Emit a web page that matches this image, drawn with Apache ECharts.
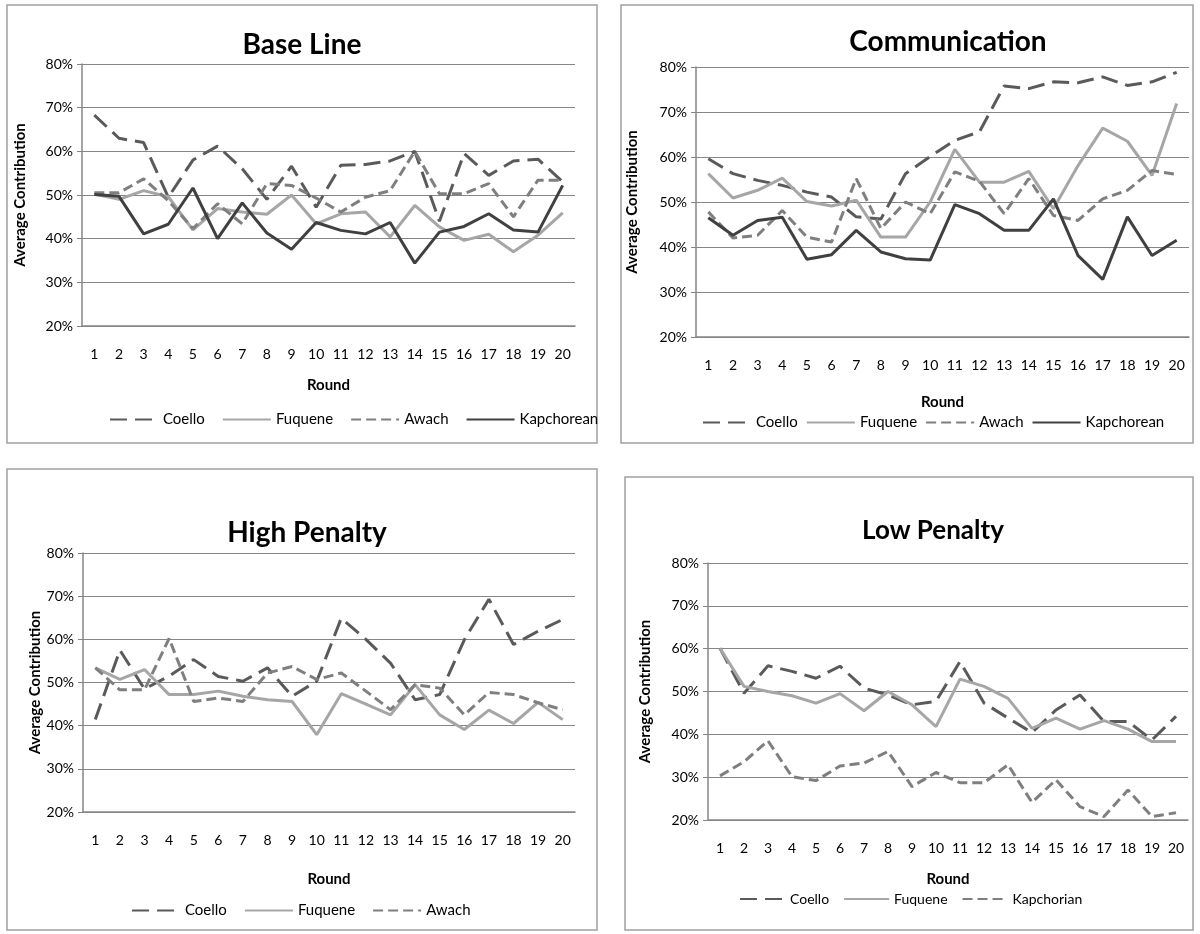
<!DOCTYPE html>
<html>
<head>
<meta charset="utf-8">
<script src="https://cdn.jsdelivr.net/npm/echarts@6/dist/echarts.min.js"></script>
<style>
  html, body { margin: 0; padding: 0; background: #fff; }
  #chart { width: 1200px; height: 934px; }
</style>
</head>
<body>
<div id="chart"></div>
<script>
// Rounds of the public goods game
const rounds = ['1','2','3','4','5','6','7','8','9','10','11','12','13','14','15','16','17','18','19','20'];
const yTicks = [20, 30, 40, 50, 60, 70, 80];

// Base Line treatment (average contribution, %)
const baseCoello     = [68.3, 63.0, 62.0, 49.5, 58.0, 61.2, 56.0, 49.0, 56.6, 47.2, 56.8, 57.0, 57.8, 60.0, 44.0, 59.5, 54.5, 57.8, 58.2, 53.0];
const baseFuquene    = [50.2, 49.0, 51.0, 49.6, 42.0, 46.9, 46.1, 45.6, 50.0, 43.4, 45.7, 46.1, 40.4, 47.6, 42.7, 39.6, 41.0, 37.0, 40.8, 45.9];
const baseAwach      = [50.5, 50.5, 53.7, 48.7, 42.3, 48.0, 43.4, 52.6, 52.2, 49.3, 46.1, 49.5, 51.0, 60.0, 50.3, 50.3, 52.6, 45.0, 53.4, 53.4];
const baseKapchorean = [50.1, 49.7, 41.1, 43.3, 51.6, 40.0, 48.2, 41.3, 37.6, 43.7, 41.9, 41.1, 43.7, 34.4, 41.5, 42.8, 45.7, 42.0, 41.5, 52.2];

// Communication treatment
const commCoello     = [59.6, 56.3, 54.8, 53.7, 52.2, 51.1, 46.7, 46.2, 56.3, 60.1, 63.7, 65.6, 75.8, 75.2, 76.7, 76.5, 77.8, 75.9, 76.7, 78.8];
const commFuquene    = [56.3, 50.9, 52.6, 55.3, 50.1, 49.1, 50.4, 42.2, 42.2, 50.0, 61.7, 54.4, 54.4, 56.8, 48.5, 58.1, 66.4, 63.5, 55.9, 71.9];
const commAwach      = [47.8, 42.0, 42.6, 48.1, 42.2, 41.1, 55.2, 44.1, 50.0, 47.4, 56.7, 54.6, 47.4, 55.2, 47.0, 45.9, 50.7, 52.6, 57.0, 56.1];
const commKapchorean = [46.5, 42.6, 45.9, 46.6, 37.3, 38.3, 43.7, 38.9, 37.4, 37.1, 49.4, 47.4, 43.7, 43.7, 50.7, 38.1, 32.8, 46.7, 38.1, 41.5];

// High Penalty treatment
const highCoello     = [41.4, 57.5, 48.5, 51.5, 55.3, 51.4, 50.3, 53.4, 46.8, 50.3, 64.9, 60.0, 54.5, 46.0, 47.2, 59.9, 69.3, 58.8, 61.9, 64.6];
const highFuquene    = [53.4, 50.7, 53.0, 47.2, 47.2, 48.0, 46.8, 46.0, 45.6, 37.9, 47.4, 45.0, 42.5, 49.5, 42.5, 39.1, 43.6, 40.5, 45.4, 41.4];
const highAwach      = [53.4, 48.3, 48.3, 60.2, 45.6, 46.4, 45.6, 52.2, 53.7, 50.7, 52.2, 48.0, 43.7, 49.5, 48.7, 42.5, 47.7, 47.2, 45.3, 43.7];

// Low Penalty treatment
const lowCoello      = [60.1, 49.6, 56.0, 54.7, 53.1, 55.9, 50.8, 49.2, 46.9, 47.7, 57.0, 47.3, 43.8, 40.4, 45.7, 49.2, 43.0, 43.0, 38.7, 44.2];
const lowFuquene     = [60.1, 51.2, 50.0, 49.0, 47.3, 49.5, 45.5, 50.0, 46.9, 41.8, 52.9, 51.2, 48.4, 41.4, 43.8, 41.2, 43.2, 41.2, 38.3, 38.3];
const lowKapchorian  = [30.3, 33.6, 38.5, 30.1, 29.2, 32.6, 33.3, 36.0, 27.8, 31.1, 28.7, 28.7, 32.9, 24.1, 29.4, 23.1, 20.8, 27.0, 20.8, 21.7];

const FONT = 'Lato, "Open Sans", sans-serif';

// Line styles per site
const styles = {
  Coello:     { color: '#5a5a5a', type: [17, 8] },
  Fuquene:    { color: '#a6a6a6', type: 'solid' },
  Awach:      { color: '#7f7f7f', type: [10, 5] },
  Kapchorean: { color: '#404040', type: 'solid' },
  Kapchorian: { color: '#7f7f7f', type: [10, 5] }
};

const panels = [
  { title: 'Base Line', titleSize: 28, titleX: 297, titleTop: 26, box: [7, 5, 590, 438],
    grid: { left: 82, top: 64, width: 493, height: 262 }, yNameGap: 54,
    roundGap: 52, legend: { top: 407, left: 104, font: 15, itemWidth: 48, gap: 17 },
    series: [['Coello', baseCoello], ['Fuquene', baseFuquene], ['Awach', baseAwach], ['Kapchorean', baseKapchorean]] },
  { title: 'Communication', titleSize: 28, titleX: 943, titleTop: 23, box: [621, 5, 572, 438],
    grid: { left: 696, top: 67, width: 493, height: 270 }, yNameGap: 56,
    roundGap: 58, legend: { top: 410, left: 697, font: 15, itemWidth: 48, gap: 8 },
    series: [['Coello', commCoello], ['Fuquene', commFuquene], ['Awach', commAwach], ['Kapchorean', commKapchorean]] },
  { title: 'High Penalty', titleSize: 28, titleX: 302, titleTop: 514, box: [7, 469, 590, 461],
    grid: { left: 83, top: 553, width: 492, height: 259 }, yNameGap: 27,
    roundGap: 60, legend: { top: 898, left: 126, font: 15, itemWidth: 48, gap: 17 },
    series: [['Coello', highCoello], ['Fuquene', highFuquene], ['Awach', highAwach]] },
  { title: 'Low Penalty', titleSize: 26, titleX: 928, titleTop: 513, box: [625, 477, 568, 453],
    grid: { left: 708, top: 563, width: 480, height: 257 }, yNameGap: 55,
    roundGap: 52, legend: { top: 887, left: 734, font: 14, itemWidth: 45, gap: 14 },
    series: [['Coello', lowCoello], ['Fuquene', lowFuquene], ['Kapchorian', lowKapchorian]] }
];

const option = {
  animation: false,
  backgroundColor: '#fff',
  textStyle: { fontFamily: FONT },
  title: [], legend: [], grid: [], xAxis: [], yAxis: [], series: [],
  graphic: []
};

panels.forEach((p, i) => {
  option.graphic.push({
    type: 'rect', z: -1, silent: true,
    shape: { x: p.box[0], y: p.box[1], width: p.box[2], height: p.box[3] },
    style: { fill: '#fff', stroke: '#a0a0a0', lineWidth: 1.5 }
  });
  option.title.push({
    text: p.title, left: p.titleX, top: p.titleTop, textAlign: 'center',
    textStyle: { fontFamily: FONT, fontSize: p.titleSize, fontWeight: 'bold', color: '#000' }
  });
  option.grid.push(Object.assign({ containLabel: false }, p.grid));
  option.xAxis.push({
    type: 'category', gridIndex: i, data: rounds, boundaryGap: true,
    name: 'Round', nameLocation: 'middle', nameGap: p.roundGap,
    nameTextStyle: { fontFamily: FONT, fontSize: 15, fontWeight: 'bold', color: '#000' },
    axisLine: { show: true, lineStyle: { color: '#868686', width: 1.5 } },
    axisTick: { show: false },
    axisLabel: { interval: 0, margin: 21, fontFamily: FONT, fontSize: 14, color: '#000' },
    splitLine: { show: false }
  });
  option.yAxis.push({
    type: 'value', gridIndex: i, min: yTicks[0], max: yTicks[yTicks.length - 1], interval: 10,
    name: 'Average Contribution', nameLocation: 'middle', nameGap: p.yNameGap, nameRotate: 90,
    nameTextStyle: { fontFamily: FONT, fontSize: 15, fontWeight: 'bold', color: '#000' },
    axisLine: { show: true, lineStyle: { color: '#868686', width: 1.5 } },
    axisTick: { show: true, length: 5, lineStyle: { color: '#868686' } },
    axisLabel: { formatter: '{value}%', margin: 9, fontFamily: FONT, fontSize: 14, color: '#000' },
    splitLine: { show: true, lineStyle: { color: '#868686', width: 1 } }
  });
  option.legend.push({
    left: p.legend.left, top: p.legend.top, orient: 'horizontal',
    itemWidth: p.legend.itemWidth, itemHeight: 10, itemGap: p.legend.gap,
    data: p.series.map(s => s[0]),
    // line-only keys, no marker dot
    itemStyle: { opacity: 0, borderWidth: 0 },
    textStyle: { fontFamily: FONT, fontSize: p.legend.font, color: '#000' }
  });
  p.series.forEach(([name, values]) => {
    const st = styles[name];
    option.series.push({
      type: 'line', name, xAxisIndex: i, yAxisIndex: i, data: values,
      symbol: 'none', smooth: false, silent: true,
      lineStyle: { color: st.color, width: 3, type: st.type },
      itemStyle: { color: st.color }
    });
  });
});

const chart = echarts.init(document.getElementById('chart'), null, { renderer: 'canvas' });
chart.setOption(option);
</script>
</body>
</html>
